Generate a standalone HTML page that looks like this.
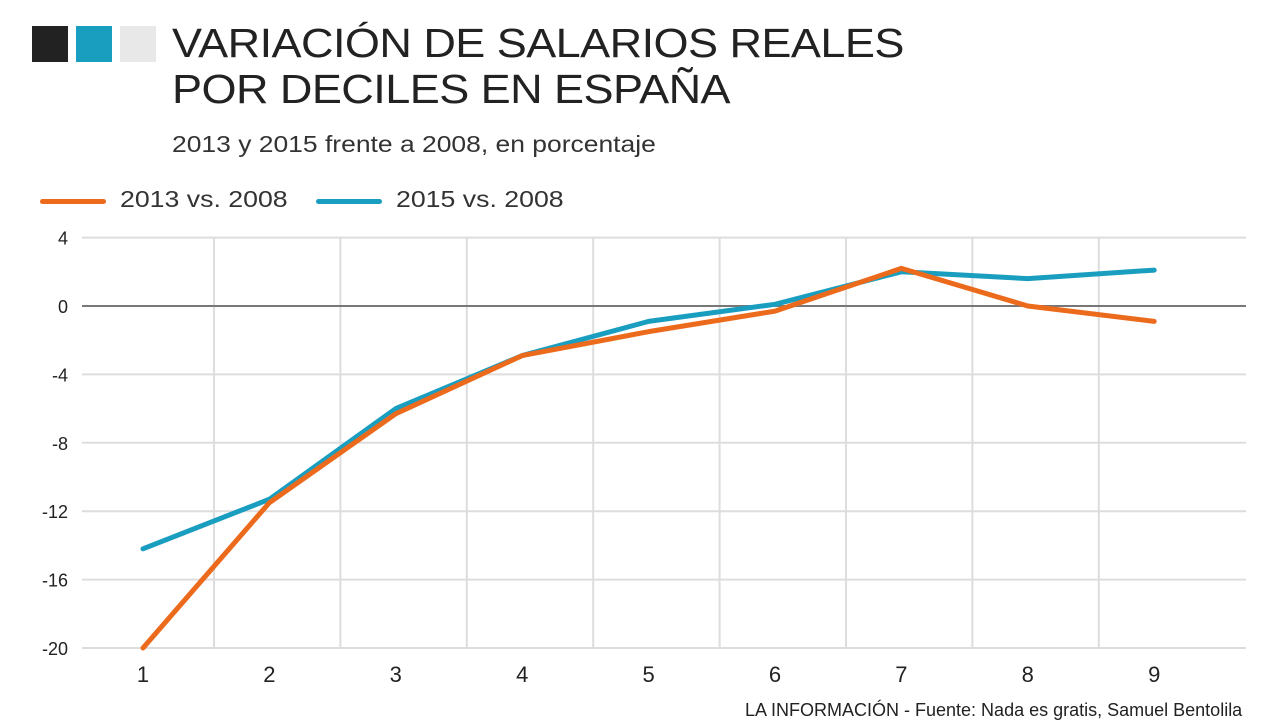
<!DOCTYPE html>
<html><head><meta charset="utf-8"><style>
body{margin:0;width:1280px;height:720px;background:#fff;font-family:"Liberation Sans",sans-serif;overflow:hidden;position:relative}
.sq{position:absolute;top:26px;width:36px;height:36px}
.t{position:absolute;left:172px;top:20px;font-size:41px;line-height:46px;color:#222;letter-spacing:-0.5px;transform:scaleX(1.098);transform-origin:left;white-space:nowrap}
.sub{position:absolute;left:172px;top:131px;font-size:23px;color:#333;transform:scaleX(1.15);transform-origin:left;white-space:nowrap}
.leg{position:absolute;top:186px;font-size:23px;color:#333;transform:scaleX(1.16);transform-origin:left;white-space:nowrap}
.ln{position:absolute;top:199px;height:5px;border-radius:3px}
.src{position:absolute;left:745px;top:700px;font-size:18px;color:#222;white-space:nowrap}
</style></head><body>
<div class="sq" style="left:32px;background:#222"></div>
<div class="sq" style="left:76px;background:#1a9ec0"></div>
<div class="sq" style="left:120px;background:#e8e8e8"></div>
<div class="t">VARIACIÓN DE SALARIOS REALES<br>POR DECILES EN ESPAÑA</div>
<div class="sub">2013 y 2015 frente a 2008, en porcentaje</div>
<div class="ln" style="left:40px;width:66px;background:#ec6a1c"></div>
<div class="leg" style="left:120px">2013 vs. 2008</div>
<div class="ln" style="left:316px;width:66px;background:#1a9ec0"></div>
<div class="leg" style="left:396px">2015 vs. 2008</div>
<svg id="c" width="1280" height="720" style="position:absolute;left:0;top:0"></svg>
<div class="src">LA INFORMACIÓN - Fuente: Nada es gratis, Samuel Bentolila</div>
<script>
const categories=[1,2,3,4,5,6,7,8,9];
const s2013=[-20,-11.5,-6.3,-2.9,-1.5,-0.3,2.2,0.0,-0.9];
const s2015=[-14.2,-11.3,-6.0,-2.9,-0.9,0.1,2.0,1.6,2.1];
const yTicks=[4,0,-4,-8,-12,-16,-20];
const NS='http://www.w3.org/2000/svg';
const svg=document.getElementById('c');
const x=i=>143+(i-1)*126.4;
const y=v=>306-v*17.1;
function mk(t,a){const e=document.createElementNS(NS,t);for(const k in a)e.setAttribute(k,a[k]);svg.appendChild(e);return e;}
for(let i=1;i<=8;i++){
 const g=mk('line',{x1:x(i)+71,x2:x(i)+71,y1:238,y2:648,stroke:'#ddd','stroke-width':2});
 
 
}
yTicks.forEach(v=>{
 const l=mk('line',{x1:82,x2:1246,y1:y(v),y2:y(v),stroke:v===0?'#777':'#ddd','stroke-width':2});
 
 
 const t=mk('text',{x:68,y:y(v)+7,'text-anchor':'end','font-size':18,fill:'#222','font-family':'Liberation Sans'});
 t.textContent=v;
 
 
});
categories.forEach(c=>{
 const t=mk('text',{x:x(c),y:682,'text-anchor':'middle','font-size':22,fill:'#222','font-family':'Liberation Sans'});
 t.textContent=c;
 
 
});
function line(d,col,name){
 const p=mk('polyline',{points:d.map((v,i)=>x(categories[i])+','+y(v)).join(' '),fill:'none',stroke:col,'stroke-width':5,'stroke-linejoin':'round','stroke-linecap':'round'});
 
 
}
line(s2015,'#1a9ec0','series-2015');
line(s2013,'#ec6a1c','series-2013');
</script>
</body></html>
